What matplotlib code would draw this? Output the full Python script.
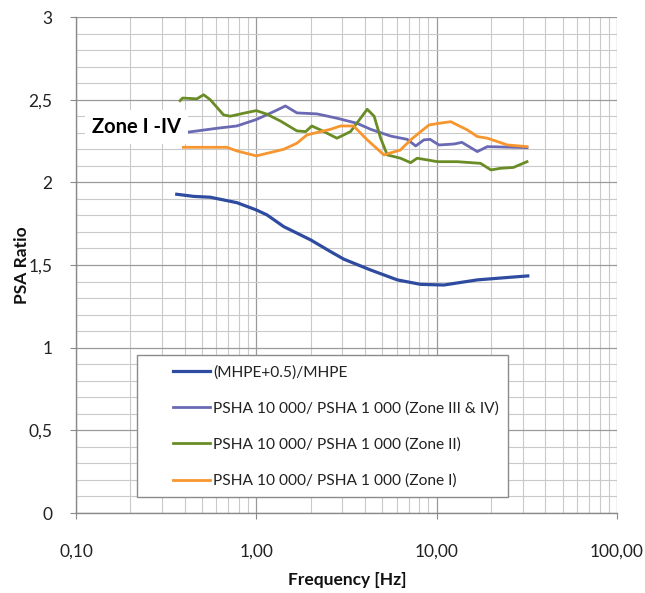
import matplotlib
matplotlib.use("Agg")
import matplotlib.pyplot as plt
from matplotlib.ticker import FixedLocator, LogLocator, MultipleLocator, NullFormatter
from matplotlib.patches import Rectangle

plt.rcParams['font.family'] = ['Lato', 'DejaVu Sans']

# ---- data ----
blue_f = [0.362, 0.45, 0.555, 0.781, 1.0, 1.146, 1.42, 2.0, 2.58, 3.06, 4.3, 6.05, 8.15, 10.96, 16.8, 25.0, 32.0]
blue_v = [1.928, 1.915, 1.91, 1.877, 1.833, 1.803, 1.732, 1.652, 1.581, 1.535, 1.47, 1.41, 1.383, 1.379, 1.41, 1.425, 1.434]

purple_f = [0.394, 0.605, 0.78, 1.0, 1.25, 1.45, 1.68, 2.17, 2.8, 3.62, 4.3, 5.55, 6.87, 7.65, 8.5, 9.2, 10.3, 12.5, 13.8, 16.8, 19.1, 31.7]
purple_v = [2.30, 2.327, 2.341, 2.38, 2.428, 2.462, 2.42, 2.414, 2.388, 2.357, 2.321, 2.28, 2.26, 2.22, 2.257, 2.26, 2.226, 2.232, 2.242, 2.186, 2.216, 2.21]

green_f = [0.378, 0.39, 0.468, 0.51, 0.555, 0.658, 0.717, 0.85, 1.0, 1.146, 1.36, 1.68, 1.88, 2.03, 2.27, 2.8, 3.33, 4.12, 4.5, 4.89, 5.32, 6.3, 7.17, 7.8, 10.1, 13.0, 17.5, 20.0, 22.6, 26.6, 31.7]
green_v = [2.494, 2.51, 2.505, 2.53, 2.5, 2.408, 2.40, 2.418, 2.434, 2.412, 2.371, 2.311, 2.307, 2.341, 2.317, 2.267, 2.307, 2.442, 2.4, 2.267, 2.166, 2.146, 2.119, 2.146, 2.125, 2.125, 2.115, 2.075, 2.085, 2.09, 2.125]

orange_f = [0.394, 0.687, 0.78, 1.0, 1.42, 1.68, 1.91, 2.58, 2.93, 3.46, 4.12, 5.1, 6.3, 7.17, 9.06, 10.3, 11.96, 14.8, 16.8, 19.1, 24.7, 31.7]
orange_v = [2.212, 2.212, 2.19, 2.16, 2.2, 2.237, 2.287, 2.321, 2.341, 2.341, 2.257, 2.166, 2.196, 2.257, 2.347, 2.357, 2.367, 2.317, 2.277, 2.267, 2.226, 2.216]

series_labels = ["(MHPE+0.5)/MHPE",
                 "PSHA 10 000/ PSHA 1 000 (Zone III & IV)",
                 "PSHA 10 000/ PSHA 1 000 (Zone II)",
                 "PSHA 10 000/ PSHA 1 000 (Zone I)"]
x_ticks = [0.1, 1, 10, 100]
x_tick_labels = ["0,10", "1,00", "10,00", "100,00"]
y_ticks = [0, 0.5, 1, 1.5, 2, 2.5, 3]
y_tick_labels = ["0", "0,5", "1", "1,5", "2", "2,5", "3"]

# ---- figure ----
fig = plt.figure(figsize=(6.45, 5.93), dpi=100)
ax = fig.add_axes([0.1178, 0.1349, 0.8388, 0.8364])

ax.plot(blue_f, blue_v, color='#2F4BA0', lw=2.3, label=series_labels[0], zorder=3)
ax.plot(purple_f, purple_v, color='#6A69B3', lw=2.0, label=series_labels[1], zorder=3)
ax.plot(green_f, green_v, color='#6A8C25', lw=2.0, label=series_labels[2], zorder=3)
ax.plot(orange_f, orange_v, color='#F7952E', lw=2.0, label=series_labels[3], zorder=3)

ax.set_xscale('log')
ax.set_xlim(0.1, 100)
ax.set_ylim(0, 3)
ax.xaxis.set_major_locator(FixedLocator(x_ticks))
ax.set_xticklabels(x_tick_labels)
ax.xaxis.set_minor_locator(LogLocator(base=10, subs=range(2, 10)))
ax.xaxis.set_minor_formatter(NullFormatter())
ax.set_yticks(y_ticks)
ax.set_yticklabels(y_tick_labels)
ax.yaxis.set_minor_locator(MultipleLocator(0.1))

ax.grid(which='major', color='#9a9a9a', lw=0.9, zorder=0)
ax.grid(which='minor', color='#c9c9c9', lw=0.8, zorder=0)
ax.set_axisbelow(True)

for s in ['top', 'right']:
    ax.spines[s].set_visible(False)
for s in ['left', 'bottom']:
    ax.spines[s].set_color('#8a8a8a')
    ax.spines[s].set_linewidth(1.0)

ax.tick_params(which='major', length=4, color='#8a8a8a', labelsize=12.5, labelcolor='#222222')
ax.tick_params(axis='x', which='major', pad=18)
ax.tick_params(axis='y', which='major', pad=13)
ax.tick_params(which='minor', length=0)

fig.text(0.538, 0.022, "Frequency [Hz]", fontsize=12.5, fontweight='bold',
         ha='center', va='center', color='#111111')
fig.text(0.034, 0.553, "PSA Ratio", fontsize=12.5, fontweight='bold', rotation=90,
         ha='center', va='center', color='#111111')

ax.text(0.03, 0.778, "Zone I -IV", transform=ax.transAxes, fontsize=14.5,
        fontweight='bold', va='center', ha='left', zorder=6,
        bbox=dict(boxstyle='square,pad=0.35', facecolor='white', edgecolor='none'))

# legend frame
ax.add_patch(Rectangle((0.113, 0.032), 0.686, 0.287, transform=ax.transAxes,
                       facecolor='white', edgecolor='#8a8a8a', lw=1.0, zorder=4))
leg = ax.legend(loc='center left', bbox_to_anchor=(0.179, 0.174), frameon=False,
                fontsize=11.2, handlelength=2.4, handletextpad=0.2, labelspacing=1.4,
                borderpad=0, borderaxespad=0)
leg.set_zorder(5)
for t in leg.get_texts():
    t.set_color('#222222')

fig.savefig("out.png", dpi=100, facecolor='white')
